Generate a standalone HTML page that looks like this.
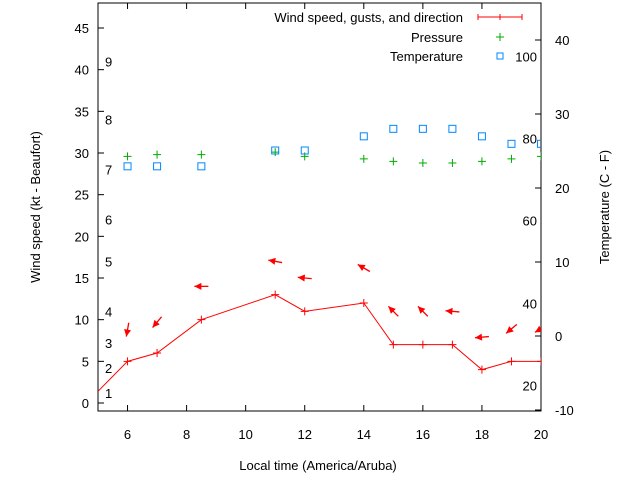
<!DOCTYPE html>
<html><head><meta charset="utf-8"><style>
body{margin:0;background:#fff}
svg{display:block;font-family:"Liberation Sans",sans-serif;font-size:13px}
</style></head><body>
<svg id="c" width="640" height="480"></svg>
<script>
const hours=[6,7,8.5,11,12,14,15,16,17,18,19,20];
const wind=[5,6,10,13,11,12,7,7,7,4,5,5];
const gusts=[8.8,9.7,14,17,15,16.2,11,11,11,7.9,8.9,8.9];
const dirs=[-100,-130,180,170,175,150,135,135,175,185,220,210];
const pressure=[29.6,29.8,29.8,30.1,29.6,29.3,29.0,28.8,28.8,29.0,29.3,29.6];
const temperature=[28.4,28.4,28.4,30.3,30.3,32,32.9,32.9,32.9,32,31.1,31.1];
const xTicks=[6,8,10,12,14,16,18,20];
const yTicks=[0,5,10,15,20,25,30,35,40,45];
const tTicks=[-10,0,10,20,30,40];
const beaufort=[[1,1.2],[2,4.2],[3,7.2],[4,11],[5,17],[6,22],[7,28],[8,34],[9,41]];
const fahr=[[20,-6.7],[40,4.4],[60,15.6],[80,26.7],[100,37.8]];
const L=98,R=541,T=3,B=411;
const X=v=>L+(v-5)/15*(R-L);
const Y=v=>403-v*400/48;
const TY=v=>336-v*7.4;
const svg=document.getElementById('c');
const NS='http://www.w3.org/2000/svg';
function el(t,a,p){const e=document.createElementNS(NS,t);for(const k in a)e.setAttribute(k,a[k]);(p||svg).appendChild(e);return e;}
function txt(s,x,y,anchor,name,extra){const e=el('text',Object.assign({x:x,y:y,'text-anchor':anchor||'start',fill:'#000'},extra||{}));e.textContent=s;return e;}
const fr=el('rect',{x:L,y:T,width:R-L,height:B-T,fill:'none',stroke:'#000','stroke-width':1});

xTicks.forEach(v=>{el('line',{x1:X(v),x2:X(v),y1:B,y2:B-6,stroke:'#000'});el('line',{x1:X(v),x2:X(v),y1:T,y2:T+6,stroke:'#000'});txt(String(v),X(v),439,'middle','x-tick-label');});
yTicks.forEach(v=>{el('line',{x1:L,x2:L+6,y1:Y(v),y2:Y(v),stroke:'#000'});txt(String(v),89,Y(v)+5,'end','y-tick-label');});
tTicks.forEach(v=>{el('line',{x1:R,x2:R-6,y1:TY(v),y2:TY(v),stroke:'#000'});txt(String(v),555,TY(v)+5,'start','temp-tick-label');});
beaufort.forEach(b=>txt(String(b[0]),105,Y(b[1])+5,'start','beaufort-label'));
fahr.forEach(f=>txt(String(f[0]),537,TY(f[1])+5,'end','fahrenheit-label'));
txt('Local time (America/Aruba)',318,470,'middle','x-axis-title');
txt('Wind speed (kt - Beaufort)',40,207,'middle','y-axis-title',{transform:'rotate(-90 40 207)'});
txt('Temperature (C - F)',609,207,'middle','y2-axis-title',{transform:'rotate(-90 609 207)'});
const defs=el('defs',{});const cp=el('clipPath',{id:'cp'},defs);el('rect',{x:L,y:T,width:R-L,height:B-T},cp);
const g=el('g',{'clip-path':'url(#cp)'});
let pts=[[X(5),Y(1.4)]].concat(hours.map((h,i)=>[X(h),Y(wind[i])]));pts.push([X(21),Y(wind[wind.length-1])]);
const pl=el('polyline',{points:pts.map(p=>p.join(',')).join(' '),fill:'none',stroke:'#f00','stroke-width':1},g);

function plus(x,y,c,n){const p=el('path',{d:`M${x-4},${y}h8M${x},${y-4}v8`,stroke:c,'stroke-width':1,fill:'none'},g);}
hours.forEach((h,i)=>plus(X(h),Y(wind[i]),'#f00','wind-point'));
hours.forEach((h,i)=>plus(X(h),Y(pressure[i]),'#0a0','pressure-point'));
hours.forEach((h,i)=>{const r=el('rect',{x:X(h)-3.5,y:Y(temperature[i])-3.5,width:7,height:7,fill:'none',stroke:'#08f','stroke-width':1},g);});
hours.forEach((h,i)=>{const cx=X(h),cy=Y(gusts[i]),a=dirs[i]*Math.PI/180,dx=Math.cos(a)*7,dy=-Math.sin(a)*7;
const hx=cx+dx,hy=cy+dy,tx=cx-dx,ty=cy-dy;
const grp=el('g',{},g);
el('line',{x1:tx,y1:ty,x2:hx,y2:hy,stroke:'#f00','stroke-width':1.3},grp);
const ux=dx/7,uy=dy/7,px=-uy,py=ux;
el('polygon',{points:`${hx},${hy} ${hx-ux*7+px*3.5},${hy-uy*7+py*3.5} ${hx-ux*7-px*3.5},${hy-uy*7-py*3.5}`,fill:'#f00'},grp);});
txt('Wind speed, gusts, and direction',463,22,'end','legend-wind-label');
txt('Pressure',463,42,'end','legend-pressure-label');
txt('Temperature',463,61,'end','legend-temperature-label');
const lw=el('path',{d:'M478,17H522M478,14v6M522,14v6M500,14v6',stroke:'#f00',fill:'none'});
const lp=el('path',{d:'M496,37h8M500,33v8',stroke:'#0a0',fill:'none'});
const lt=el('rect',{x:497,y:53,width:6,height:6,fill:'none',stroke:'#08f'});
</script>
</body></html>
